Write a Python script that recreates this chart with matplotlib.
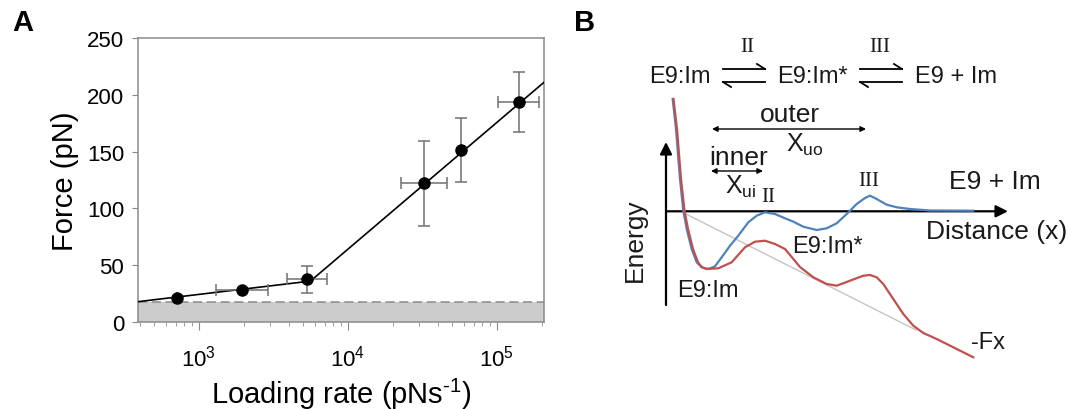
import numpy as np
import matplotlib
matplotlib.use("Agg")
import matplotlib.pyplot as plt

plt.rcParams['font.family'] = ['Liberation Sans', 'DejaVu Sans']
plt.rcParams['mathtext.fontset'] = 'custom'
plt.rcParams['mathtext.rm'] = 'Liberation Sans'
plt.rcParams['mathtext.it'] = 'Liberation Sans:italic'

# ---- panel A data: rupture force vs loading rate
rate = np.array([710, 1950, 5300, 32500, 57000, 140000])
force = np.array([21.4, 28.5, 37.6, 122, 151.5, 193.5])
rate_lo = np.array([710, 1300, 3880, 22700, 57000, 101000])
rate_hi = np.array([710, 2920, 7190, 45900, 57000, 191000])
force_lo = np.array([21.4, 28.5, 25.3, 84.8, 123.5, 167.5])
force_hi = np.array([21.4, 28.5, 49.6, 159.6, 180, 219.8])
fit_rate = [390, 5600, 207000]
fit_force = [17.9, 36, 211]
threshold = 17.9

# ---- panel B data: schematic energy landscape (distance, energy)
blue_d = [0.67, 1.0, 1.4, 1.73, 2.07, 2.57, 3.07, 3.57, 4.23, 4.9, 5.57, 6.4, 7.23, 8.23,
          9.07, 9.9, 10.9, 11.9, 12.7, 13.73, 15.07, 16.07, 17.07, 18.07, 19.07, 19.9,
          20.4, 21.07, 22.07, 23.07, 24.4, 26.4, 30.7]
blue_e = [11.23, 8.23, 3.23, 0.06, -1.77, -3.77, -5.1, -5.6, -5.77, -5.5, -4.6, -3.44,
          -2.44, -1.1, -0.44, -0.1, -0.27, -0.7, -1.02, -1.54, -1.87, -1.7, -1.2, -0.27,
          0.73, 1.33, 1.56, 1.23, 0.66, 0.4, 0.23, 0.08, 0.06]
red_d = [0.75, 1.1, 1.5, 1.85, 2.2, 2.7, 3.2, 3.6, 4.07, 5.23, 6.57, 7.9, 8.9, 9.9, 10.9,
         11.9, 12.65, 13.4, 14.73, 16.07, 17.07, 18.4, 19.73, 20.4, 21.07, 21.73, 22.73,
         23.73, 24.73, 25.73, 27.07, 28.73, 30.73]
red_e = [11.23, 8.23, 3.23, 0.06, -1.77, -3.77, -5.1, -5.6, -5.77, -5.7, -5.1, -3.6,
         -3.04, -2.94, -3.27, -3.77, -4.67, -5.57, -6.6, -7.27, -7.44, -6.94, -6.44, -6.37,
         -6.6, -7.27, -8.77, -10.27, -11.44, -12.17, -12.77, -13.6, -14.6]
fx_d = [1.8, 25.0]
fx_e = [-0.17, -11.87]

fig = plt.figure(figsize=(10.8, 4.1), dpi=100)

# ================= Panel A
ax = fig.add_axes([138/1080, 87/410, 406/1080, 284/410])
spine_c = '#8a8a8a'
ax.set_xscale('log')
ax.set_xlim(390, 207000)
ax.set_ylim(0, 250)
ax.axhspan(0, threshold, color='#cccccc', lw=0, zorder=0)
ax.axhline(threshold, color='#8a8a8a', lw=1.1, dashes=(6, 3), zorder=1)
ax.plot(fit_rate, fit_force, color='black', lw=1.2, zorder=3)
ax.errorbar(rate, force,
            xerr=[rate - rate_lo, rate_hi - rate],
            yerr=[force - force_lo, force_hi - force],
            fmt='o', color='black', ms=8, ecolor='#707070', elinewidth=1.1,
            capsize=4, capthick=1.1, zorder=4)
for s in ax.spines.values():
    s.set_color(spine_c)
    s.set_linewidth(1.1)
ax.set_yticks([0, 50, 100, 150, 200, 250])
ax.tick_params(axis='both', which='both', colors=spine_c, labelcolor='black',
               direction='out', labelsize=16)
ax.tick_params(axis='y', length=4, pad=6)
ax.tick_params(axis='x', which='major', length=6, pad=10)
ax.tick_params(axis='x', which='minor', length=3)
ax.set_ylabel('Force (pN)', fontsize=21, labelpad=6)
ax.set_xlabel(r'Loading rate (pNs$^{\text{-1}}$)', fontsize=21, labelpad=4)

fig.text(23/1080, 1 - 23/410, 'A', fontsize=21, fontweight='bold', ha='center', va='center')
fig.text(585/1080, 1 - 23/410, 'B', fontsize=21, fontweight='bold', ha='center', va='center')

# ================= Panel B (schematic, 1 unit = 10 px)
bx = fig.add_axes([0, 0, 1, 1])
bx.set_xlim(-66.6, 41.4)
bx.set_ylim(-19.77, 21.23)
bx.axis('off')
bx.patch.set_alpha(0)

bx.plot(fx_d, fx_e, color='#c4c4c4', lw=1.0, zorder=1)
bx.plot(blue_d, blue_e, color='#4f81bd', lw=1.6, zorder=3, solid_joinstyle='round')
bx.plot(red_d, red_e, color='#c0504d', lw=1.6, zorder=3, solid_joinstyle='round')

# axes arrows
bx.annotate('', xy=(0, 6.93), xytext=(0, -9.37),
            arrowprops=dict(arrowstyle='-|>', color='black', lw=1.6, mutation_scale=18,
                            shrinkA=0, shrinkB=0))
bx.annotate('', xy=(34.2, 0), xytext=(0, 0),
            arrowprops=dict(arrowstyle='-|>', color='black', lw=1.6, mutation_scale=18,
                            shrinkA=0, shrinkB=0), zorder=2)

# distance arrows
for x0, x1, y in [(4.6, 20.0, 8.23), (4.5, 9.7, 4.03)]:
    bx.annotate('', xy=(x1, y), xytext=(x0, y),
                arrowprops=dict(arrowstyle='<|-|>', color='black', lw=1.0,
                                mutation_scale=8, shrinkA=0, shrinkB=0))


def harpoon(x0, x1, y):
    # equilibrium arrows
    bx.plot([x0, x1], [y + 0.65, y + 0.65], color='black', lw=1.3)
    bx.plot([x1, x1 - 0.8], [y + 0.65, y + 1.15], color='black', lw=1.3)
    bx.plot([x0, x1], [y - 0.65, y - 0.65], color='black', lw=1.3)
    bx.plot([x0, x0 + 0.8], [y - 0.65, y - 1.15], color='black', lw=1.3)


harpoon(5.7, 9.9, 13.58)
harpoon(19.4, 23.6, 13.58)

sans = dict(ha='center', va='center', color='#1a1a1a')
serif = dict(ha='center', va='center', family=['Liberation Serif', 'DejaVu Serif'], color='#1a1a1a')
bx.text(1.4, 13.53, 'E9:Im', fontsize=17, **sans)
bx.text(14.6, 13.53, 'E9:Im*', fontsize=17, **sans)
bx.text(29.0, 13.53, 'E9 + Im', fontsize=17, **sans)
bx.text(8.1, 16.53, 'II', fontsize=15, **serif)
bx.text(21.4, 16.53, 'III', fontsize=15, **serif)
bx.text(12.4, 9.73, 'outer', fontsize=19, **sans)
bx.text(13.9, 6.73, r'X$_{\mathrm{uo}}$', fontsize=18, **sans)
bx.text(7.3, 5.43, 'inner', fontsize=19, **sans)
bx.text(7.5, 2.53, r'X$_{\mathrm{ui}}$', fontsize=18, **sans)
bx.text(10.2, 1.43, 'II', fontsize=15, **serif)
bx.text(20.3, 3.03, 'III', fontsize=15, **serif)
bx.text(32.9, 3.03, 'E9 + Im', fontsize=19, **sans)
bx.text(33.1, -1.97, 'Distance (x)', fontsize=19, **sans)
bx.text(16.1, -3.47, 'E9:Im*', fontsize=17, **sans)
bx.text(-3.1, -2.77, 'Energy', fontsize=19, rotation=90, **sans)
bx.text(4.2, -7.87, 'E9:Im', fontsize=17, **sans)
bx.text(32.2, -13.07, '-Fx', fontsize=17, **sans)

fig.savefig('out.png', dpi=100)
